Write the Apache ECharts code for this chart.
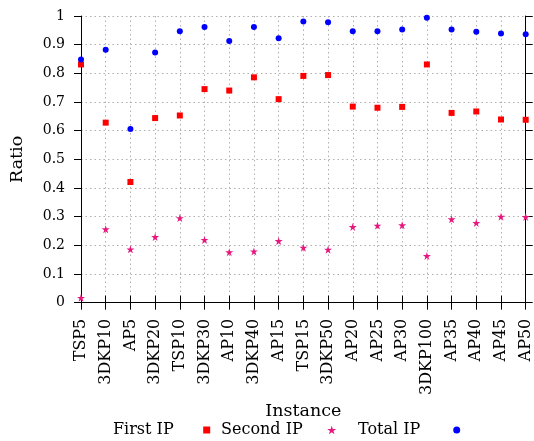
<!DOCTYPE html>
<html>
<head>
<meta charset="utf-8">
<script src="https://cdn.jsdelivr.net/npm/echarts@6/dist/echarts.min.js"></script>
<style>
html,body{margin:0;padding:0;background:#fff;}
#chart{width:534px;height:441px;}
</style>
</head>
<body>
<div id="chart"></div>
<script>
const categories = ['TSP5','3DKP10','AP5','3DKP20','TSP10','3DKP30','AP10','3DKP40','AP15','TSP15','3DKP50','AP20','AP25','AP30','3DKP100','AP35','AP40','AP45','AP50'];
const firstIP = [0.831,0.628,0.421,0.644,0.653,0.745,0.740,0.786,0.710,0.791,0.794,0.684,0.680,0.683,0.831,0.662,0.667,0.639,0.638];
const secondIP = [0.017,0.256,0.186,0.229,0.295,0.219,0.176,0.179,0.215,0.192,0.185,0.264,0.269,0.270,0.163,0.291,0.278,0.300,0.299];
const totalIP = [0.848,0.882,0.606,0.873,0.947,0.962,0.913,0.962,0.922,0.981,0.978,0.947,0.947,0.953,0.994,0.953,0.945,0.939,0.936];
const seriesNames = ['First IP','Second IP','Total IP'];
const yMin = 0, yMax = 1, yStep = 0.1;

const FONT = 'DejaVu Serif';
const STAR = 'path://M0,-10 L2.245,-3.09 L9.51,-3.09 L3.633,1.18 L5.878,8.09 L0,3.82 L-5.878,8.09 L-3.633,1.18 L-9.51,-3.09 L-2.245,-3.09 Z';
const colors = ['#ff0000', '#e6177f', '#0000ff'];
const symbols = ['rect', STAR, 'circle'];
const sizes = [6, 8, 6];

const chart = echarts.init(document.getElementById('chart'), null, {renderer: 'canvas'});

const axisLine = {show: true, lineStyle: {color: '#000', width: 1}};
const tick = {show: true, inside: false, length: 7, lineStyle: {color: '#000', width: 1}};
const grid = {show: true, lineStyle: {color: '#b0b0b0', type: [1.5, 3], width: 1}};

function legendFor(i, left, boxW, iconW) {
  return {
    data: [{name: seriesNames[i], icon: symbols[i]}],
    left: left, top: 422, padding: 0, align: 'right',
    itemWidth: iconW, itemHeight: iconW, itemGap: 0,
    selectedMode: false,
    formatter: '{a|{name}}',
    textStyle: {
      fontFamily: FONT, fontSize: 16, color: '#000',
      rich: {a: {fontFamily: FONT, fontSize: 16, color: '#000', width: boxW, align: 'left'}}
    }
  };
}

const option = {
  animation: false,
  backgroundColor: '#fff',
  grid: {left: 81, right: 8.3, top: 16, bottom: 138.3, containLabel: false},
  legend: [
    legendFor(0, 113, 206.7 - 113 - 5 - 3.5, 7),
    legendFor(1, 221, 331.7 - 221 - 5 - 4.5, 9),
    legendFor(2, 358, 456.7 - 358 - 5 - 3.5, 7)
  ],
  xAxis: [{
    type: 'category', data: categories, boundaryGap: false, position: 'bottom',
    name: 'Instance', nameLocation: 'middle', nameGap: 86,
    nameTextStyle: {fontFamily: FONT, fontSize: 17.5, color: '#000'},
    axisLine: axisLine, axisTick: Object.assign({interval: 0}, tick),
    axisLabel: {interval: 0, rotate: 90, margin: 16, fontFamily: FONT, fontSize: 16, color: '#000'},
    splitLine: Object.assign({interval: 0}, grid)
  }, {
    type: 'category', data: categories, boundaryGap: false, position: 'top',
    axisLine: axisLine, axisTick: Object.assign({interval: 0}, tick),
    axisLabel: {show: false}, splitLine: {show: false}
  }],
  yAxis: [{
    type: 'value', min: yMin, max: yMax, interval: yStep, position: 'left',
    name: 'Ratio', nameLocation: 'middle', nameGap: 55,
    nameTextStyle: {fontFamily: FONT, fontSize: 17.5, color: '#000'},
    axisLine: axisLine, axisTick: tick,
    axisLabel: {margin: 16, fontFamily: FONT, fontSize: 14, color: '#000'},
    splitLine: grid
  }, {
    type: 'value', min: yMin, max: yMax, interval: yStep, position: 'right',
    axisLine: axisLine, axisTick: tick,
    axisLabel: {show: false}, splitLine: {show: false}
  }],
  series: [firstIP, secondIP, totalIP].map((d, i) => ({
    name: seriesNames[i], type: 'scatter', data: d,
    xAxisIndex: 0, yAxisIndex: 0,
    symbol: symbols[i], symbolSize: sizes[i],
    itemStyle: {color: colors[i], opacity: 1},
    emphasis: {disabled: true}, z: 3 + (i === 2 ? 1 : 0)
  }))
};
chart.setOption(option);
</script>
</body>
</html>
